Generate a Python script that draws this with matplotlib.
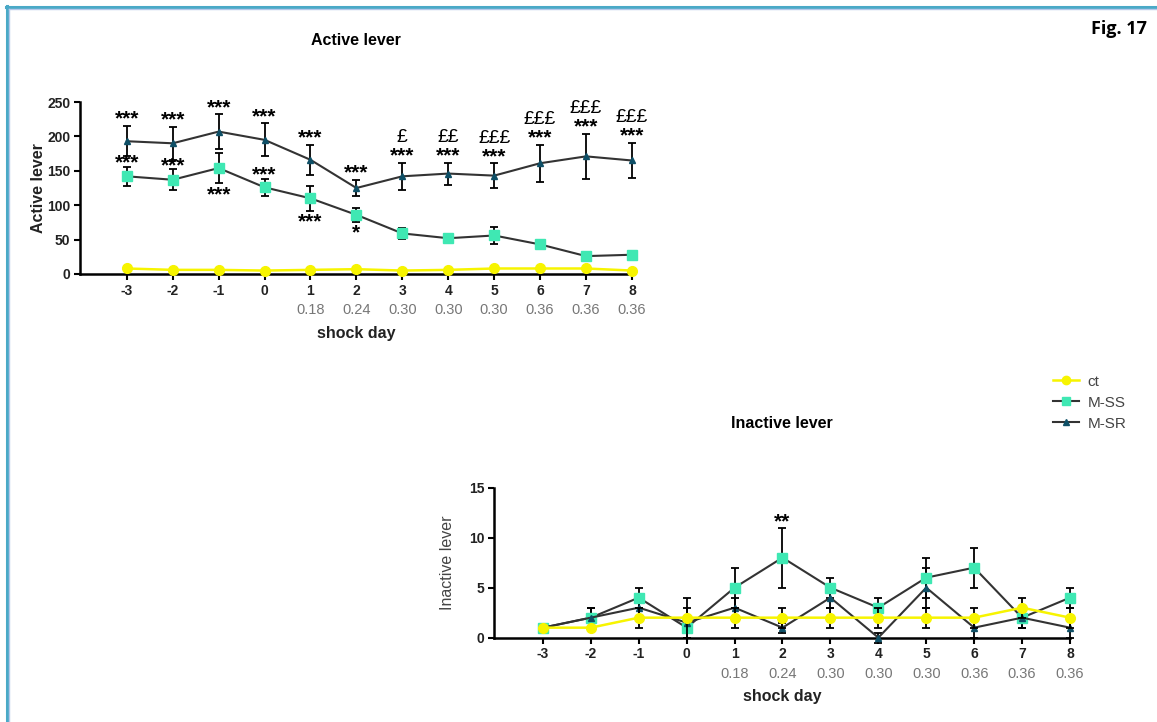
import numpy as np
import matplotlib
matplotlib.use("Agg")
import matplotlib.pyplot as plt
from matplotlib.lines import Line2D

plt.rcParams['font.family'] = ['Liberation Sans', 'DejaVu Sans']

# ---- data ----
days = [-3, -2, -1, 0, 1, 2, 3, 4, 5, 6, 7, 8]
shock = ['', '', '', '', '0.18', '0.24', '0.30', '0.30', '0.30', '0.36', '0.36', '0.36']

# active lever
act_ct = [8, 6, 6, 5, 6, 7, 5, 6, 8, 8, 8, 5]
act_ct_err = [1, 1, 1, 1, 1, 1, 1, 1, 1, 1, 1, 1]
act_ss = [142, 137, 154, 126, 110, 86, 59, 52, 56, 43, 26, 28]
act_ss_err = [14, 15, 22, 12, 18, 10, 8, 6, 12, 6, 5, 5]
act_sr = [193, 190, 207, 195, 166, 125, 142, 146, 143, 161, 171, 165]
act_sr_err = [22, 24, 25, 24, 22, 12, 20, 16, 18, 27, 33, 26]

sr_stars = ['***'] * 12
sr_pounds = ['', '', '', '', '', '', '£', '££', '£££', '£££', '£££', '£££']
ss_stars = ['***', '***', '***', '***', '***', '*', '', '', '', '', '', '']
ss_side = ['up', 'up', 'down', 'up', 'down', 'down', '', '', '', '', '', '']

# inactive lever
ina_ct = [1, 1, 2, 2, 2, 2, 2, 2, 2, 2, 3, 2]
ina_ct_err = [0, 0, 1, 2, 1, 1, 1, 1, 1, 1, 1, 1]
ina_ss = [1, 2, 4, 1, 5, 8, 5, 3, 6, 7, 2, 4]
ina_ss_err = [0, 1, 1, 1, 2, 3, 1, 1, 2, 2, 1, 1]
ina_sr = [1, 2, 3, 1.5, 3, 1, 4, 0, 5, 1, 2, 1]
ina_sr_err = [0, 1, 1, 1.5, 1, 0.5, 1, 0.5, 2, 1, 1, 1]
ina_stars = ['', '', '', '', '', '**', '', '', '', '', '', '']

C_CT = '#f7f400'
C_SS = '#3fe8b3'
C_SR = '#0e4f66'
C_LN = '#333333'
STAR = 15

fig = plt.figure(figsize=(11.57, 7.22), dpi=100)


def draw(ax, ct, cte, ss, sse, sr, sre):
    kw = dict(ecolor='black', elinewidth=1.3, capsize=3, capthick=1.3, clip_on=False)
    h1 = ax.errorbar(days, ct, yerr=cte, color=C_CT, lw=1.8, marker='o', ms=7,
                     mfc=C_CT, mec=C_CT, zorder=5, label='ct', **kw)
    h2 = ax.errorbar(days, ss, yerr=sse, color=C_LN, lw=1.5, marker='s', ms=7,
                     mfc=C_SS, mec=C_SS, zorder=4, label='M-SS', **kw)
    h3 = ax.errorbar(days, sr, yerr=sre, color=C_LN, lw=1.5, marker='^', ms=5,
                     mfc=C_SR, mec=C_SR, zorder=4, label='M-SR', **kw)
    for b in (h1, h2, h3):
        for a in b.lines[1] + b.lines[2]:
            a.set_clip_on(False)
        b.lines[0].set_clip_on(False)
    ax.spines['top'].set_visible(False)
    ax.spines['right'].set_visible(False)
    ax.spines['left'].set_linewidth(1.8)
    ax.spines['bottom'].set_linewidth(1.8)
    ax.set_xlim(-4.02, 8)
    ax.set_xticks(days)
    ax.set_xticklabels([str(d) for d in days], fontweight='bold', fontsize=10, color='#222222')
    ax.tick_params(axis='both', direction='out', length=4, width=1.5, pad=3)
    for d, s in zip(days, shock):
        if s:
            ax.annotate(s, xy=(d, 0), xycoords=('data', 'axes fraction'),
                        xytext=(0, -26), textcoords='offset points',
                        ha='center', va='center', fontsize=10.5, color='#777777')
    ax.annotate('shock day', xy=(0.5, 0), xycoords='axes fraction',
                xytext=(0, -42.5), textcoords='offset points',
                ha='center', va='center', fontsize=11.5, fontweight='bold', color='#222222')
    return h1, h2, h3


# ---- Active lever ----
ax1 = fig.add_axes([0.0691, 0.6205, 0.4771, 0.2382])
draw(ax1, act_ct, act_ct_err, act_ss, act_ss_err, act_sr, act_sr_err)
ax1.set_ylim(0, 250)
ax1.set_yticks([0, 50, 100, 150, 200, 250])
ax1.set_yticklabels(['0', '50', '100', '150', '200', '250'], fontweight='bold', fontsize=10, color='#222222')
ax1.set_ylabel('Active lever', fontsize=11.5, fontweight='bold', color='#222222', labelpad=1)
ax1.set_title('Active lever', fontsize=11.5, fontweight='bold', pad=41)

for d, v, e, st, pd_ in zip(days, act_sr, act_sr_err, sr_stars, sr_pounds):
    ax1.annotate(st, xy=(d, v + e), xytext=(0, -2), textcoords='offset points',
                 ha='center', va='bottom', fontsize=STAR, fontweight='bold')
    if pd_:
        ax1.annotate(pd_, xy=(d, v + e), xytext=(0, 12), textcoords='offset points',
                     ha='center', va='bottom', fontsize=14)
for d, v, e, st, sd in zip(days, act_ss, act_ss_err, ss_stars, ss_side):
    if not st:
        continue
    if sd == 'up':
        ax1.annotate(st, xy=(d, v + e), xytext=(0, -4), textcoords='offset points',
                     ha='center', va='bottom', fontsize=STAR, fontweight='bold')
    else:
        ax1.annotate(st, xy=(d, v - e), xytext=(0, -15), textcoords='offset points',
                     ha='center', va='bottom', fontsize=STAR, fontweight='bold')

# ---- Inactive lever ----
ax2 = fig.add_axes([0.427, 0.1168, 0.4978, 0.2078])
draw(ax2, ina_ct, ina_ct_err, ina_ss, ina_ss_err, ina_sr, ina_sr_err)
ax2.set_ylim(0, 15)
ax2.set_yticks([0, 5, 10, 15])
ax2.set_yticklabels(['0', '5', '10', '15'], fontweight='bold', fontsize=10, color='#222222')
ax2.set_ylabel('Inactive lever', fontsize=11.5, color='#444444', labelpad=10)
ax2.set_title('Inactive lever', fontsize=11.5, fontweight='bold', pad=43)
for d, v, e, st in zip(days, ina_ss, ina_ss_err, ina_stars):
    if st:
        ax2.annotate(st, xy=(d, v + e), xytext=(0, -3), textcoords='offset points',
                     ha='center', va='bottom', fontsize=STAR, fontweight='bold')

# legend
handles = [
    Line2D([], [], color=C_CT, lw=1.8, marker='o', ms=6, mfc=C_CT, mec=C_CT),
    Line2D([], [], color=C_LN, lw=1.5, marker='s', ms=6, mfc=C_SS, mec=C_SS),
    Line2D([], [], color=C_LN, lw=1.5, marker='^', ms=5, mfc=C_SR, mec=C_SR),
]
fig.legend(handles, ['ct', 'M-SS', 'M-SR'], loc='upper left',
           bbox_to_anchor=(0.898, 0.5), frameon=False, fontsize=11,
           handlelength=1.7, labelspacing=0.45, handletextpad=0.6,
           labelcolor='#444444')

# figure label and page border
fig.text(0.991, 0.96, 'Fig. 17', ha='right', va='center', fontsize=13,
         fontweight='bold', family=['Open Sans', 'DejaVu Sans'])
W, H = 1157, 722
fig.add_artist(Line2D([6 / W, 1], [1 - 6.5 / H, 1 - 6.5 / H], color='#4aa9c7', lw=2.2))
fig.add_artist(Line2D([7 / W, 7 / W], [0, 1 - 6 / H], color='#4aa9c7', lw=2.2))
fig.add_artist(Line2D([9 / W, 1], [1 - 9 / H, 1 - 9 / H], color='#b6c8ea', lw=1))
fig.add_artist(Line2D([9.2 / W, 9.2 / W], [0, 1 - 9 / H], color='#b6c8ea', lw=1))

fig.savefig('out.png', dpi=100)
